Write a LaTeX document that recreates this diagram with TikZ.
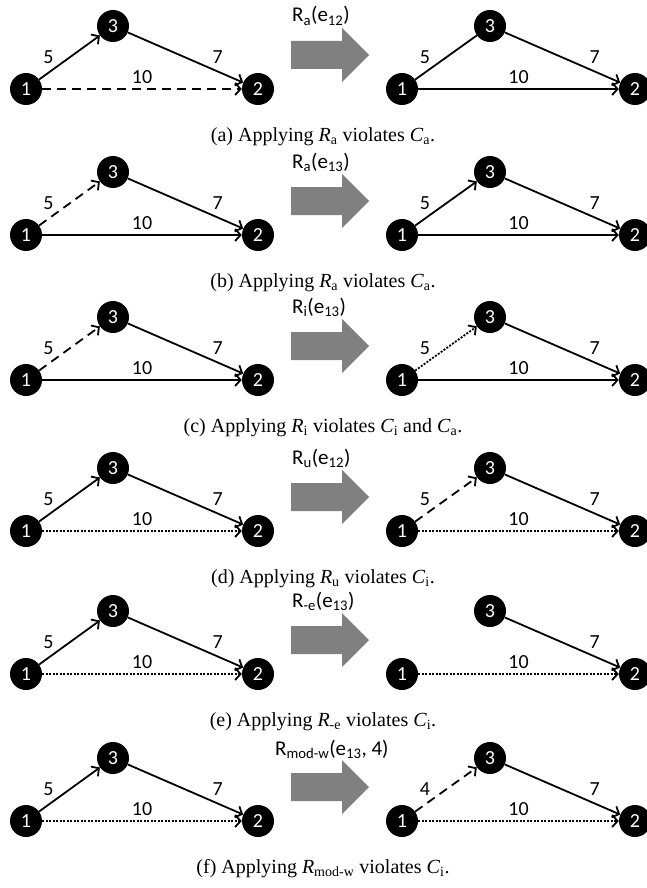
\documentclass[tikz,border=0pt]{standalone}
\usepackage{fontspec}
\setmainfont{Liberation Serif}
\setsansfont{Carlito}
\usetikzlibrary{arrows.meta}

\tikzset{
  vtx/.style={circle, fill=black, text=white, inner sep=0pt, minimum size=32pt,
    font=\sffamily\fontsize{20}{20}\selectfont},
  lbl/.style={inner sep=0pt, font=\sffamily\fontsize{20}{20}\selectfont},
  rlbl/.style={inner sep=0pt, anchor=base west, font=\sffamily\fontsize{21}{21}\selectfont},
  captext/.style={inner sep=0pt, anchor=base, font=\fontsize{20}{20}\selectfont},
  undir/.style={line width=1.8pt},
  link/.style={undir, -{Straight Barb[length=5.5pt,width=12pt]}},
  dashlink/.style={link, dash pattern=on 9pt off 6pt},
  dotlink/.style={link, dash pattern=on 2pt off 1.5pt},
  rulearrow/.style={fill=gray}
}

\begin{document}
\begin{tikzpicture}[x=1pt, y=-1pt]
\useasboundingbox (0,0) rectangle (646,888);
% vertices before (L) and after (R) the rule, edge 3->2 and the big arrow
\foreach \row/\y in {a/89,b/235,c/380,d/531,e/674,f/821}{
  \node[vtx] (\row L1) at (26,\y) {1};
  \node[vtx] (\row L3) at (113,\y-63) {3};
  \node[vtx] (\row L2) at (258,\y) {2};
  \node[vtx] (\row R1) at (402,\y) {1};
  \node[vtx] (\row R3) at (490,\y-63) {3};
  \node[vtx] (\row R2) at (635,\y) {2};
  \draw[link] (\row L3) -- node[lbl, pos=.78, yshift=14pt]{7} (\row L2);
  \draw[link] (\row R3) -- node[lbl, pos=.78, yshift=14pt]{7} (\row R2);
  \fill[rulearrow] (291,\y-48) -- (342,\y-48) -- (342,\y-61) -- (369,\y-34)
    -- (342,\y-7) -- (342,\y-20) -- (291,\y-20) -- cycle;
}

% (a)
\draw[link] (aL1) -- node[lbl, xshift=-21pt]{5} (aL3);
\draw[dashlink] (aL1) -- node[lbl, yshift=12pt]{10} (aL2);
\draw[undir] (aR1) -- node[lbl, xshift=-21pt]{5} (aR3);
\draw[link] (aR1) -- node[lbl, yshift=12pt]{10} (aR2);
\node[rlbl] (ruleA) at (292,22) {R\textsubscript{a}(e\textsubscript{12})};
\node[captext] (capA) at (323,141) {(a) Applying \textit{R}\textsubscript{a} violates \textit{C}\textsubscript{a}.};

% (b)
\draw[dashlink] (bL1) -- node[lbl, xshift=-21pt]{5} (bL3);
\draw[link] (bL1) -- node[lbl, yshift=12pt]{10} (bL2);
\draw[link] (bR1) -- node[lbl, xshift=-21pt]{5} (bR3);
\draw[link] (bR1) -- node[lbl, yshift=12pt]{10} (bR2);
\node[rlbl] (ruleB) at (292,168) {R\textsubscript{a}(e\textsubscript{13})};
\node[captext] (capB) at (323,287) {(b) Applying \textit{R}\textsubscript{a} violates \textit{C}\textsubscript{a}.};

% (c)
\draw[dashlink] (cL1) -- node[lbl, xshift=-21pt]{5} (cL3);
\draw[link] (cL1) -- node[lbl, yshift=12pt]{10} (cL2);
\draw[dotlink] (cR1) -- node[lbl, xshift=-21pt]{5} (cR3);
\draw[link] (cR1) -- node[lbl, yshift=12pt]{10} (cR2);
\node[rlbl] (ruleC) at (292,313) {R\textsubscript{i}(e\textsubscript{13})};
\node[captext] (capC) at (323,432) {(c) Applying \textit{R}\textsubscript{i} violates \textit{C}\textsubscript{i} and \textit{C}\textsubscript{a}.};

% (d)
\draw[link] (dL1) -- node[lbl, xshift=-21pt]{5} (dL3);
\draw[dotlink] (dL1) -- node[lbl, yshift=12pt]{10} (dL2);
\draw[dashlink] (dR1) -- node[lbl, xshift=-21pt]{5} (dR3);
\draw[dotlink] (dR1) -- node[lbl, yshift=12pt]{10} (dR2);
\node[rlbl] (ruleD) at (292,464) {R\textsubscript{u}(e\textsubscript{12})};
\node[captext] (capD) at (323,583) {(d) Applying \textit{R}\textsubscript{u} violates \textit{C}\textsubscript{i}.};

% (e)
\draw[link] (eL1) -- node[lbl, xshift=-21pt]{5} (eL3);
\draw[dotlink] (eL1) -- node[lbl, yshift=12pt]{10} (eL2);
\draw[dotlink] (eR1) -- node[lbl, yshift=12pt]{10} (eR2);
\node[rlbl] (ruleE) at (292,607) {R\textsubscript{-e}(e\textsubscript{13})};
\node[captext] (capE) at (323,726) {(e) Applying \textit{R}\textsubscript{-e} violates \textit{C}\textsubscript{i}.};

% (f)
\draw[link] (fL1) -- node[lbl, xshift=-21pt]{5} (fL3);
\draw[dotlink] (fL1) -- node[lbl, yshift=12pt]{10} (fL2);
\draw[dashlink] (fR1) -- node[lbl, xshift=-21pt]{4} (fR3);
\draw[dotlink] (fR1) -- node[lbl, yshift=12pt]{10} (fR2);
\node[rlbl] (ruleF) at (275,755) {R\textsubscript{mod-w}(e\textsubscript{13}, 4)};
\node[captext] (capF) at (323,873) {(f) Applying \textit{R}\textsubscript{mod-w} violates \textit{C}\textsubscript{i}.};
\end{tikzpicture}
\end{document}
